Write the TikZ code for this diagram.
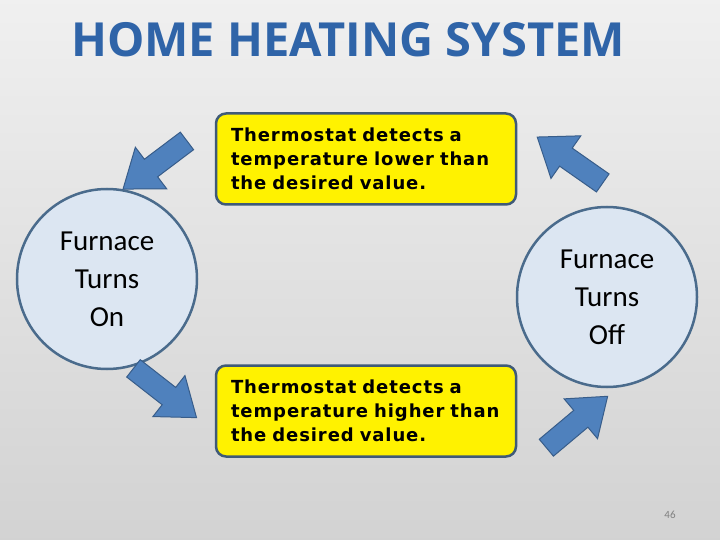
\documentclass[tikz,border=0pt]{standalone}
\usepackage{fontspec}
\setmainfont{Carlito}
\newfontfamily\titlefont{Open Sans}
\newfontfamily\boxfont[LetterSpace=5]{DejaVu Sans}
\begin{document}
\begin{tikzpicture}[x=1pt,y=-1pt,
  state/.style={circle,draw=circedge,line width=2.5pt,fill=circfill,minimum size=180pt,inner sep=0pt,align=center,font=\fontsize{29}{38}\selectfont,text=black},
  msg/.style={rectangle,rounded corners=10pt,draw=boxedge,line width=2.5pt,fill=yellow,minimum width=300pt,minimum height=91pt,align=left,text width=270pt,font=\boxfont\bfseries\fontsize{18}{24}\selectfont},
  blockarrow/.style={fill=arrowblue,draw=arrowedge,line width=1pt}]
\definecolor{circfill}{HTML}{DCE6F2}
\definecolor{circedge}{HTML}{4A6B8C}
\definecolor{boxedge}{HTML}{3F5A78}
\definecolor{arrowblue}{HTML}{4F81BD}
\definecolor{arrowedge}{HTML}{385D8A}
\definecolor{titleblue}{HTML}{2F64A8}
\shade[top color=gray!12,bottom color=gray!35] (0,0) rectangle (720,540);
\useasboundingbox (0,0) rectangle (720,540);
\node[font=\titlefont\bfseries\fontsize{47}{50}\selectfont,text=titleblue] (title) at (348,40) {HOME HEATING SYSTEM};
\node[msg] (top) at (366,159) {Thermostat detects a\\temperature lower than\\the desired value.};
\node[msg] (bot) at (366,411) {Thermostat detects a\\temperature higher than\\the desired value.};
\node[state] (on) at (107,279) {Furnace\\Turns\\On};
\node[state] (off) at (607,297) {Furnace\\Turns\\Off};
\newcommand{\barrow}[3]{\begin{scope}[shift={(#1,#2)},rotate=#3]
 \draw[blockarrow] (-40,-11) -- (5,-11) -- (5,-26) -- (40,0) -- (5,26) -- (5,11) -- (-40,11) -- cycle;
\end{scope}}
\barrow{155}{165}{-143}
\barrow{570}{160}{145}
\barrow{165}{393}{-38}
\barrow{577}{422}{40}
\node[text=gray,font=\fontsize{11}{13}\selectfont] (num) at (670,515) {46};
\end{tikzpicture}
\end{document}
